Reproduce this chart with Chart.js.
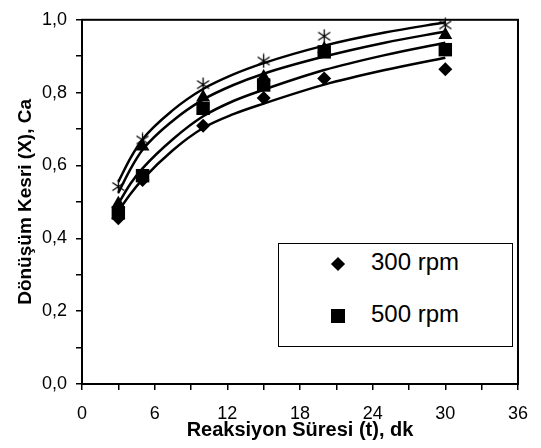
<!DOCTYPE html>
<html>
<head>
<meta charset="utf-8">
<script src="https://cdn.jsdelivr.net/npm/chart.js@4.4.1/dist/chart.umd.min.js"></script>
<style>
  html, body { margin: 0; padding: 0; background: #fff; }
  #wrap { position: relative; width: 541px; height: 448px; }
  #legend {
    position: absolute; left: 278px; top: 243px; width: 233px; height: 102px;
    border: 1px solid #000; background: #fff;
    font-family: 'Liberation Sans', Arial, sans-serif; font-size: 24px; color: #000;
  }
  .lg-text { position: absolute; left: 92px; height: 24px; line-height: 24px; white-space: nowrap; }
  .lg-mark { position: absolute; background: #000; }
</style>
</head>
<body>
<div id="wrap">
  <canvas id="c" width="541" height="448"></canvas>
  <div id="legend"></div>
</div>
<script>
// measured points (reaction time in min vs conversion)
const timeMin = [3, 5, 10, 15, 20, 30];
const conv300 = [0.455, 0.560, 0.709, 0.785, 0.839, 0.864];
const conv500 = [0.470, 0.572, 0.757, 0.821, 0.912, 0.918];
const convTri = [0.495, 0.652, 0.787, 0.843, 0.920, 0.958];
const convStar = [0.542, 0.670, 0.822, 0.887, 0.955, 0.986];

// fitted curves
const fitTime = [3, 4, 5, 7.5, 10, 12.5, 15, 20, 25, 30];
const fitStar = [0.555, 0.620, 0.672, 0.752, 0.810, 0.850, 0.881, 0.929, 0.965, 0.993];
const fitTri = [0.525, 0.590, 0.643, 0.723, 0.781, 0.821, 0.852, 0.899, 0.937, 0.968];
const fit500 = [0.495, 0.550, 0.592, 0.672, 0.735, 0.777, 0.808, 0.862, 0.903, 0.937];
const fit300 = [0.475, 0.522, 0.562, 0.642, 0.703, 0.741, 0.770, 0.822, 0.862, 0.896];

const legendLabels = ['300 rpm', '500 rpm'];
const xTicks = [0, 6, 12, 18, 24, 30, 36];

const FONT = "'Liberation Sans', Arial, sans-serif";
const pts = (xs, ys) => xs.map((x, i) => ({ x, y: ys[i] }));

// Excel-like asterisk marker: X with a vertical bar
const star = document.createElement('canvas');
star.width = 15; star.height = 15;
(() => {
  const g = star.getContext('2d');
  g.strokeStyle = '#000';
  g.lineWidth = 1.3;
  g.beginPath();
  g.moveTo(7.5, 0.5); g.lineTo(7.5, 14.5);
  g.moveTo(1.5, 3.5); g.lineTo(13.5, 11.5);
  g.moveTo(1.5, 11.5); g.lineTo(13.5, 3.5);
  g.stroke();
})();

const marker = (label, ys, style, radius) => ({
  type: 'scatter', label, data: pts(timeMin, ys),
  pointStyle: style, pointRadius: radius, pointHoverRadius: radius,
  backgroundColor: '#000', borderColor: '#000', borderWidth: 0,
  showLine: false, clip: false,
});
const curve = ys => ({
  type: 'line', label: '', data: pts(fitTime, ys),
  borderColor: '#000', borderWidth: 2.5, pointRadius: 0,
  cubicInterpolationMode: 'monotone', fill: false, clip: false,
});

const frame = {
  id: 'frame',
  afterDatasetsDraw(chart) {
    const { ctx, chartArea: a } = chart;
    ctx.save();
    ctx.strokeStyle = '#000';
    ctx.lineWidth = 2;
    ctx.strokeRect(a.left, a.top, a.right - a.left, a.bottom - a.top);
    ctx.restore();
  },
};

new Chart(document.getElementById('c'), {
  data: {
    datasets: [
      marker(legendLabels[0], conv300, 'rectRot', 7),
      marker(legendLabels[1], conv500, 'rect', 9.5),
      marker('', convTri, 'triangle', 8),
      marker('', convStar, star, 7),
      curve(fitStar),
      curve(fitTri),
      curve(fit500),
      curve(fit300),
    ],
  },
  options: {
    responsive: false,
    animation: false,
    layout: { padding: { top: 17, right: 20, left: 0, bottom: 0 } },
    plugins: { legend: { display: false }, tooltip: { enabled: false } },
    scales: {
      x: {
        type: 'linear', min: 0, max: 36,
        afterFit: s => { s.height = 64; },
        grid: { drawOnChartArea: false, color: '#000', lineWidth: 1.5, tickLength: 6 },
        border: { color: '#000', width: 2 },
        ticks: {
          stepSize: 3, padding: 13, color: '#000', maxRotation: 0,
          font: { family: FONT, size: 18 },
          callback: v => (xTicks.includes(v) ? String(v) : ''),
        },
        title: {
          display: true, text: 'Reaksiyon Süresi (t), dk', color: '#000',
          font: { family: FONT, size: 20, weight: 'bold' },
          padding: { top: 0, bottom: 6 },
        },
      },
      y: {
        min: 0, max: 1,
        afterFit: s => { s.width = 82; },
        grid: { drawOnChartArea: false, color: '#000', lineWidth: 1.5, tickLength: 6 },
        border: { color: '#000', width: 2 },
        ticks: {
          stepSize: 0.1, padding: 9, color: '#000',
          font: { family: FONT, size: 18 },
          callback: v => (Math.round(v * 10) % 2 === 0 ? v.toFixed(1).replace('.', ',') : ''),
        },
        title: {
          display: true, text: 'Dönüşüm Kesri (X), Ca', color: '#000',
          font: { family: FONT, size: 19, weight: 'bold' },
          padding: { top: 14, bottom: 0 },
        },
      },
    },
  },
  plugins: [frame],
});

// legend box drawn inside the plot, as in the original
const lg = document.getElementById('legend');
const rows = [
  { top: 6, markTop: 20, diamond: true },
  { top: 58, markTop: 72, diamond: false },
];
legendLabels.forEach((label, i) => {
  const r = rows[i];
  const m = document.createElement('div');
  m.className = 'lg-mark';
  if (r.diamond) {
    Object.assign(m.style, { width: '10px', height: '10px', left: '54px', top: (r.markTop - 5) + 'px', transform: 'rotate(45deg)' });
  } else {
    Object.assign(m.style, { width: '14px', height: '14px', left: '52px', top: (r.markTop - 7) + 'px' });
  }
  const t = document.createElement('div');
  t.className = 'lg-text';
  t.style.top = r.top + 'px';
  t.textContent = label;
  lg.appendChild(m);
  lg.appendChild(t);
});
</script>
</body>
</html>
